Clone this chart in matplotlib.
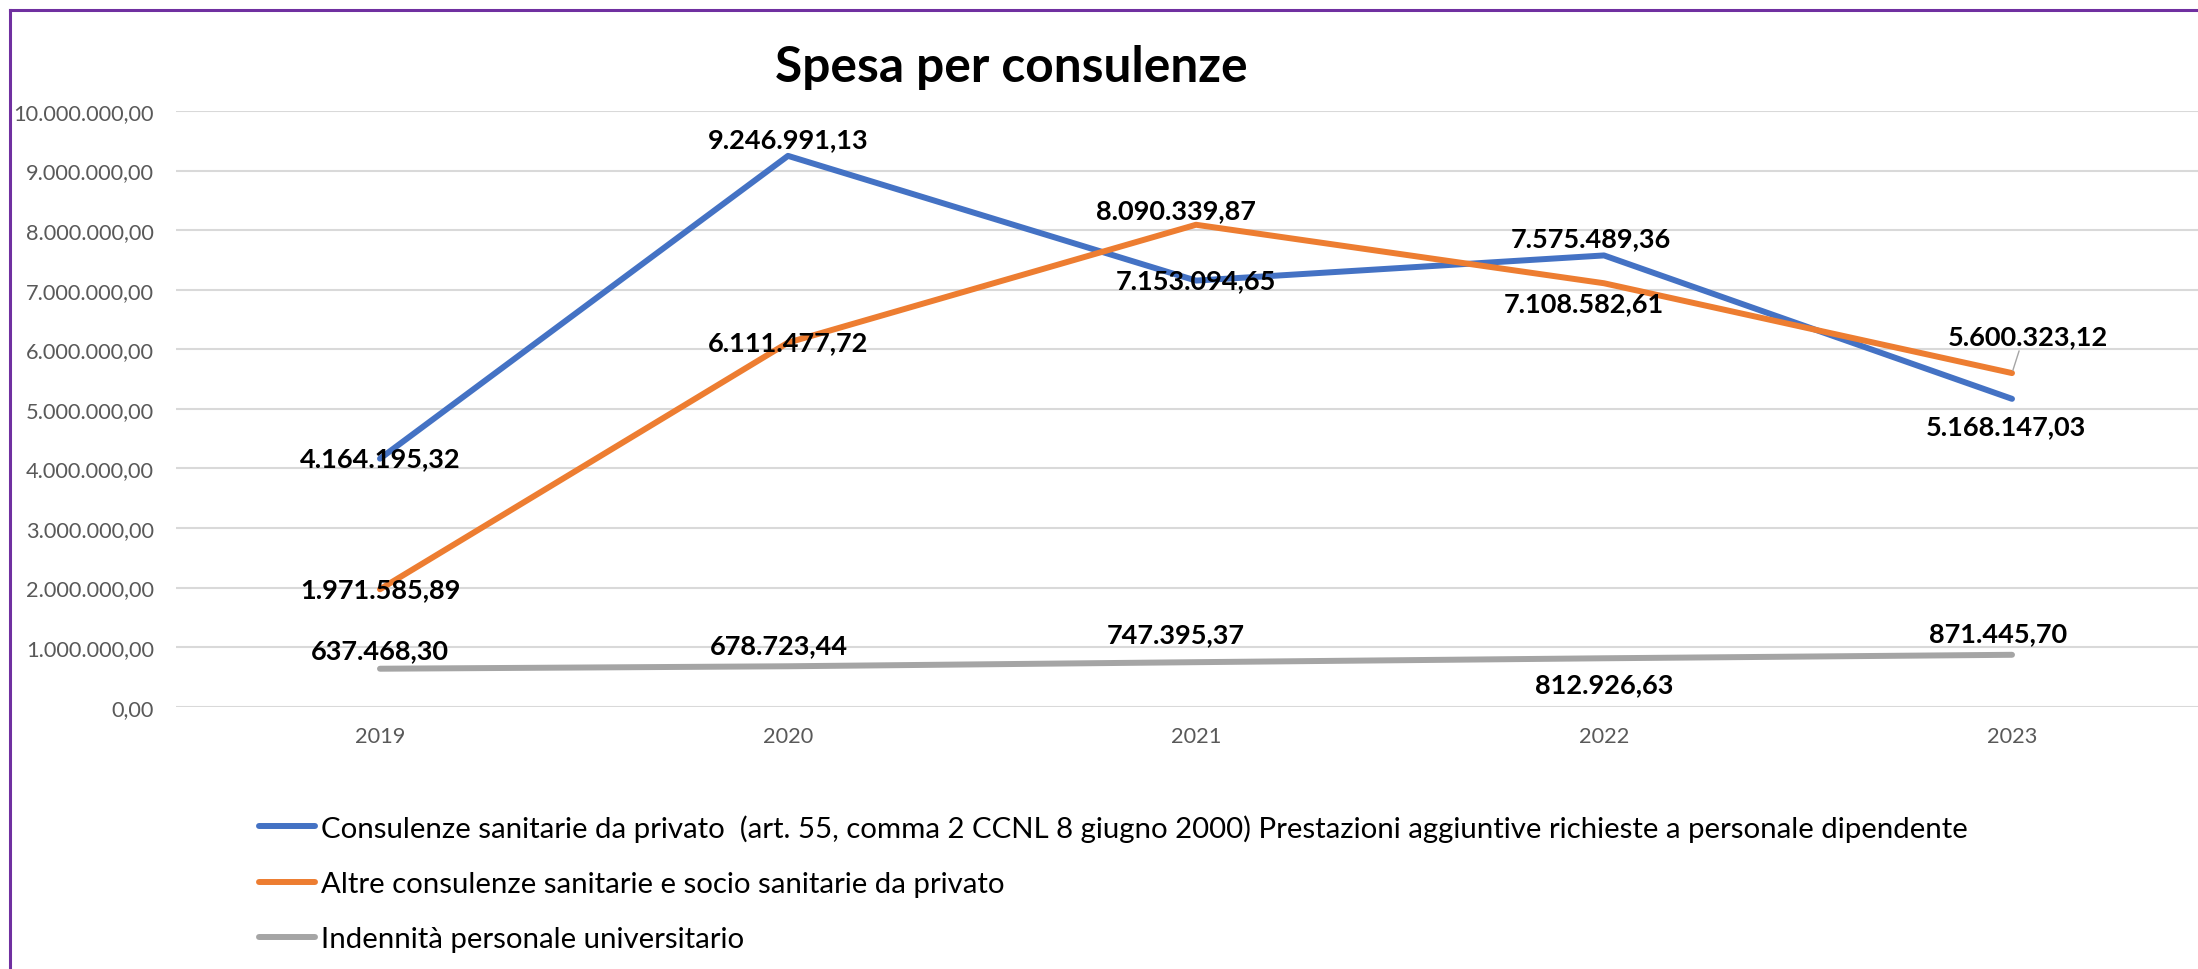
import numpy as np
import matplotlib; matplotlib.use("Agg")
import matplotlib.pyplot as plt
from matplotlib.lines import Line2D
from matplotlib.ticker import FuncFormatter

plt.rcParams["font.family"] = ["Lato", "DejaVu Sans"]

# ---------------------------------------------------------------------------
# dati
# ---------------------------------------------------------------------------
YEARS = ["2019", "2020", "2021", "2022", "2023"]
CONS_PRIVATO = [4164195.32, 9246991.13, 7153094.65, 7575489.36, 5168147.03]
ALTRE_CONS = [1971585.89, 6111477.72, 8090339.87, 7108582.61, 5600323.12]
INDENNITA = [637468.30, 678723.44, 747395.37, 812926.63, 871445.70]

LABELS = [
    "Consulenze sanitarie da privato  (art. 55, comma 2 CCNL 8 giugno 2000) "
    "Prestazioni aggiuntive richieste a personale dipendente",
    "Altre consulenze sanitarie e socio sanitarie da privato",
    "Indennità personale universitario",
]
COLORS = ["#4472C4", "#ED7D31", "#A5A5A5"]

# spostamento etichette (pixel, dx, dy)
OFFS = [
    [(0, 0), (0, 17), (0, 0), (-13, 17), (-6, -27)],
    [(0, 0), (0, 0), (-20, 15), (-20, -20), (16, 37)],
    [(0, 19), (-9, 21), (-20, 28), (0, -26), (-14, 22)],
]

W, H = 2198, 970


def it_fmt(v, _=None):
    s = f"{v:,.2f}"
    return s.replace(",", "X").replace(".", ",").replace("X", ".")


def main():
    fig = plt.figure(figsize=(W / 100, H / 100), dpi=100)
    ax = fig.add_axes([176 / W, (H - 707.7) / H, 2040 / W, 595.7 / H])

    x = np.arange(len(YEARS))
    series = [CONS_PRIVATO, ALTRE_CONS, INDENNITA]
    handles = []
    for vals, col in zip(series, COLORS):
        ln, = ax.plot(x, vals, color=col, lw=4.3, solid_capstyle="round",
                      solid_joinstyle="round", zorder=3)
        handles.append(ln)

    for s, (vals, offs) in enumerate(zip(series, OFFS)):
        for i, (v, (dx, dy)) in enumerate(zip(vals, offs)):
            kw = {}
            if s == 1 and i == 4:
                kw["arrowprops"] = dict(arrowstyle="-", color="#A5A5A5", lw=1,
                                        shrinkA=0, shrinkB=2, relpos=(0.45, 0))
            ax.annotate(it_fmt(v), (i, v), xytext=(dx, dy),
                        textcoords="offset pixels", ha="center", va="center",
                        fontsize=19.5, fontweight="bold", color="black",
                        zorder=5, **kw)

    ax.set_xlim(-0.5, 4.5)
    ax.set_ylim(0, 10_000_000)
    ax.set_yticks(np.arange(0, 10_000_001, 1_000_000))
    ax.yaxis.set_major_formatter(FuncFormatter(it_fmt))
    ax.set_xticks(x)
    ax.set_xticklabels(YEARS)
    ax.yaxis.grid(True, color="#D9D9D9", lw=1.5)
    ax.set_axisbelow(True)
    for sp in ax.spines.values():
        sp.set_visible(False)
    ax.tick_params(axis="both", length=0, labelsize=15.7, colors="#595959")
    ax.tick_params(axis="y", pad=16)
    ax.tick_params(axis="x", pad=14)

    fig.text(1011 / W, 1 - 67 / H, "Spesa per consulenze", ha="center",
             va="center", fontsize=35.7, fontweight="bold", color="black")

    fig.legend(handles, LABELS, loc="upper left",
               bbox_to_anchor=(259 / W, 1 - 815 / H), frameon=False,
               fontsize=21.2, handlelength=1.9, handletextpad=0.2,
               labelspacing=1.0, borderpad=0, borderaxespad=0)

    # cornice viola del grafico
    purple = "#7030A0"
    fig.add_artist(Line2D([9.5 / W, 9.5 / W], [0, 1 - 11 / H],
                          transform=fig.transFigure, color=purple, lw=2.2))
    fig.add_artist(Line2D([9.5 / W, 1], [1 - 11 / H, 1 - 11 / H],
                          transform=fig.transFigure, color=purple, lw=2.2))

    fig.savefig("out.png", dpi=100)
    plt.close(fig)


if __name__ == "__main__":
    main()
